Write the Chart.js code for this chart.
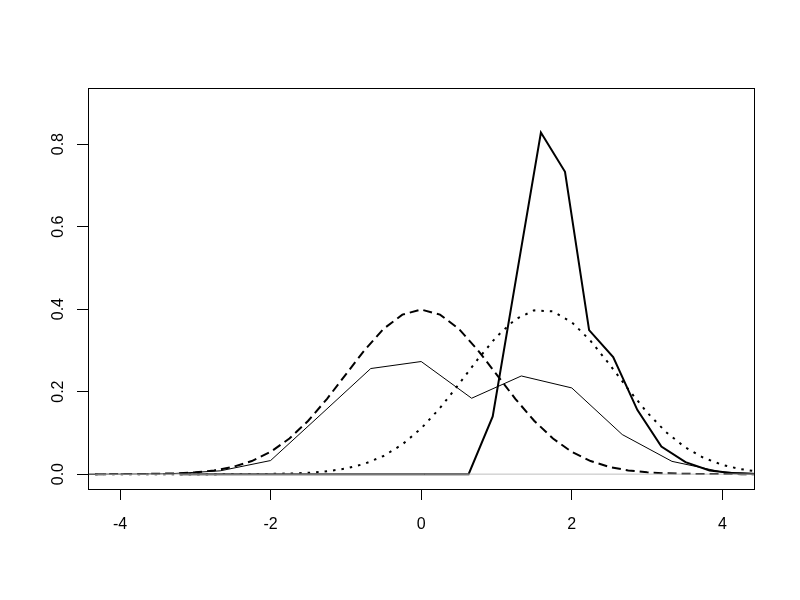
<!DOCTYPE html>
<html>
<head>
<meta charset="utf-8">
<script src="https://cdn.jsdelivr.net/npm/chart.js@4"></script>
<style>
  html, body { margin: 0; padding: 0; background: #fff; }
  #wrap { width: 800px; height: 600px; }
</style>
</head>
<body>
<div id="wrap"><canvas id="chart" width="800" height="600"></canvas></div>
<script>
// x grid for the two smooth curves
const smoothX = [-4.33, -4, -3.75, -3.5, -3.25, -3, -2.75, -2.5, -2.25, -2, -1.75, -1.5, -1.25, -1, -0.75, -0.5, -0.25,
  0, 0.25, 0.5, 0.75, 1, 1.25, 1.5, 1.75, 2, 2.25, 2.5, 2.75, 3, 3.25, 3.5, 3.75, 4, 4.25, 4.42];
// dashed curve, centred at 0
const dashedY = [0.00003, 0.0001, 0.0004, 0.0009, 0.002, 0.0044, 0.0091, 0.0175, 0.0317, 0.054, 0.0863, 0.1295, 0.1826, 0.242, 0.3011, 0.3521, 0.3867,
  0.3989, 0.3867, 0.3521, 0.3011, 0.242, 0.1826, 0.1295, 0.0863, 0.054, 0.0317, 0.0175, 0.0091, 0.0044, 0.002, 0.0009, 0.0004, 0.0001, 0.00005, 0.00002];
// dotted curve, centred near 1.6
const dottedY = [0, 0, 0, 0, 0, 0, 0.00003, 0.0001, 0.0002, 0.0006, 0.0015, 0.0033, 0.0069, 0.0136, 0.0252, 0.044, 0.0721,
  0.1109, 0.1604, 0.2179, 0.278, 0.3332, 0.3752, 0.397, 0.3945, 0.3683, 0.323, 0.2661, 0.2059, 0.1497, 0.1023, 0.0656, 0.0396, 0.0224, 0.0119, 0.0075];

// thin solid polyline
const thinX = [-4.67, -4, -3.33, -2.67, -2, -1.33, -0.67, 0, 0.67, 1.33, 2, 2.67, 3.33, 4, 4.67];
const thinY = [0, 0, 0.001, 0.008, 0.033, 0.145, 0.256, 0.273, 0.184, 0.238, 0.209, 0.096, 0.031, 0.005, 0];

// thick solid polyline
const thickX = [-3.21, 0.63, 0.95, 1.27, 1.59, 1.91, 2.23, 2.55, 2.87, 3.19, 3.51, 3.83, 4.15, 4.47];
const thickY = [0, 0, 0.14, 0.485, 0.828, 0.733, 0.349, 0.284, 0.156, 0.067, 0.029, 0.009, 0.002, 0];

// grey reference line at zero
const zeroX = [-4.33, 4.42];
const zeroY = [0, 0];

const xTicks = [-4, -2, 0, 2, 4];
const yTicks = [0, 0.2, 0.4, 0.6, 0.8];

const FONT = '"Liberation Sans", Arial, sans-serif';

function pts(xs, ys) {
  return xs.map((x, i) => ({ x, y: ys[i] }));
}

function lineSet(data, color, width, dash) {
  return {
    data,
    showLine: true,
    borderColor: color,
    borderWidth: width,
    borderDash: dash || [],
    borderCapStyle: "butt",
    borderJoinStyle: "miter",
    pointRadius: 0,
    tension: 0,
    fill: false,
    clip: 0,
  };
}

// box around the plot region and rotated y labels, like base R
const boxPlugin = {
  id: "box",
  afterDraw(chart) {
    const { ctx, chartArea, scales } = chart;
    ctx.save();
    ctx.strokeStyle = "#000";
    ctx.lineWidth = 1;
    ctx.strokeRect(Math.round(chartArea.left) + 0.5, Math.round(chartArea.top) + 0.5,
      Math.round(chartArea.right - chartArea.left), Math.round(chartArea.bottom - chartArea.top));
    ctx.fillStyle = "#000";
    ctx.font = "16px " + FONT;
    ctx.textAlign = "center";
    ctx.textBaseline = "middle";
    yTicks.forEach((v) => {
      const py = scales.y.getPixelForValue(v);
      ctx.save();
      ctx.translate(59, py);
      ctx.rotate(-Math.PI / 2);
      ctx.fillText(v.toFixed(1), 0, 0);
      ctx.restore();
    });
    ctx.restore();
  },
};

new Chart(document.getElementById("chart"), {
  type: "scatter",
  data: {
    datasets: [
      lineSet(pts(zeroX, zeroY), "#bebebe", 1),
      lineSet(pts(thinX, thinY), "#000", 1),
      lineSet(pts(smoothX, dashedY), "#000", 2, [9, 5]),
      lineSet(pts(smoothX, dottedY), "#000", 2, [2.5, 6]),
      lineSet(pts(thickX, thickY), "#000", 2),
    ],
  },
  options: {
    responsive: false,
    animation: false,
    events: [],
    layout: { padding: { left: 0, right: 46, top: 88, bottom: 0 } },
    plugins: { legend: { display: false }, tooltip: { enabled: false } },
    scales: {
      x: {
        type: "linear",
        min: -4.425,
        max: 4.42,
        afterFit(scale) { scale.height = 111; },
        afterBuildTicks(scale) { scale.ticks = xTicks.map((value) => ({ value })); },
        grid: { drawOnChartArea: false, drawTicks: true, tickLength: 11, color: "#000", lineWidth: 1 },
        border: { display: true, color: "#000", width: 1 },
        ticks: {
          color: "#000",
          font: { family: FONT, size: 16 },
          padding: 15,
          maxRotation: 0,
          callback: (v) => String(v),
        },
      },
      y: {
        type: "linear",
        min: -0.036,
        max: 0.936,
        afterFit(scale) { scale.width = 88; },
        afterBuildTicks(scale) { scale.ticks = yTicks.map((value) => ({ value })); },
        grid: { drawOnChartArea: false, drawTicks: true, tickLength: 11, color: "#000", lineWidth: 1 },
        border: { display: true, color: "#000", width: 1 },
        ticks: { display: false },
      },
    },
  },
  plugins: [boxPlugin],
});
</script>
</body>
</html>
